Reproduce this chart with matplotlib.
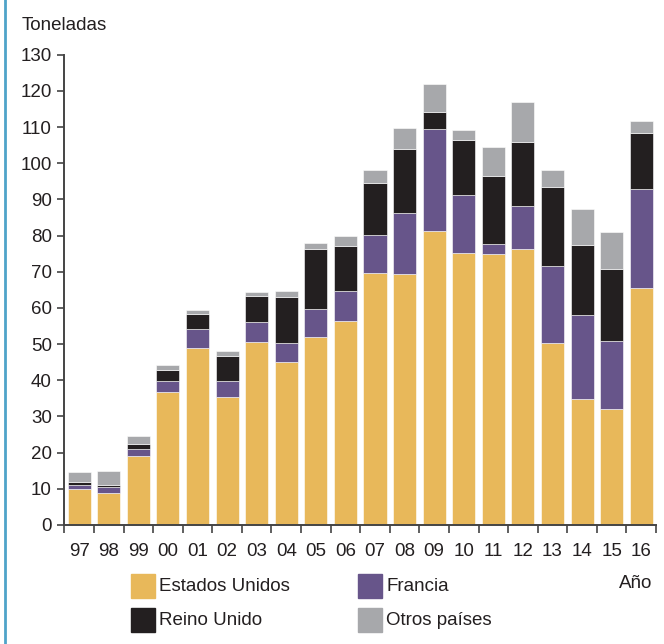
import numpy as np
import matplotlib
matplotlib.use("Agg")
import matplotlib.pyplot as plt
from matplotlib.lines import Line2D
from matplotlib.patches import Rectangle

plt.rcParams['font.family'] = ['Liberation Sans', 'DejaVu Sans']

years = ["97", "98", "99", "00", "01", "02", "03", "04", "05", "06",
         "07", "08", "09", "10", "11", "12", "13", "14", "15", "16"]
estados_unidos = [10.0, 8.9, 19.0, 36.8, 48.8, 35.3, 50.7, 45.1, 51.9, 56.4,
                  69.7, 69.3, 81.3, 75.3, 75.0, 76.3, 50.4, 34.9, 31.9, 65.6]
francia = [1.0, 1.6, 2.0, 3.0, 5.4, 4.5, 5.4, 5.3, 7.9, 8.3,
           10.5, 16.9, 28.1, 16.0, 2.7, 11.9, 21.2, 23.2, 19.0, 27.2]
reino_unido = [0.9, 0.6, 1.4, 2.9, 4.1, 7.0, 7.1, 12.5, 16.5, 12.5,
               14.3, 17.8, 4.8, 15.0, 18.7, 17.7, 21.8, 19.4, 19.8, 15.6]
otros = [2.7, 3.9, 2.3, 1.6, 1.1, 1.3, 1.2, 1.8, 1.6, 2.7,
         3.5, 5.7, 7.6, 3.0, 8.1, 11.0, 4.6, 9.9, 10.3, 3.4]

series = [("Estados Unidos", estados_unidos, "#E8B85A"),
          ("Francia", francia, "#67558A"),
          ("Reino Unido", reino_unido, "#231F20"),
          ("Otros países", otros, "#A7A8AB")]

fig = plt.figure(figsize=(6.64, 6.44), dpi=100)
ax = fig.add_axes([0.097, 0.185, 0.891, 0.73])

x = np.arange(len(years))
bottom = np.zeros(len(years))
for name, vals, col in series:
    ax.bar(x, vals, width=0.78, bottom=bottom, color=col,
           edgecolor="white", linewidth=0.4)
    bottom += np.array(vals)

ax.set_xlim(-0.5, len(years) - 0.5)
ax.set_ylim(0, 130)
ax.set_yticks(np.arange(0, 131, 10))
ax.set_xticks(x)
ax.set_xticklabels(years)
ax.set_xticks(np.arange(-0.5, len(years), 1), minor=True)
ax.tick_params(axis="x", which="major", length=0, pad=13, labelsize=13.5, labelcolor="#231F20")
ax.tick_params(axis="x", which="minor", length=6, width=1.2, color="#444444")
ax.tick_params(axis="y", length=5, width=1.2, color="#444444", labelsize=13.5,
               pad=4, labelcolor="#231F20")

for s in ["top", "right"]:
    ax.spines[s].set_visible(False)
for s in ["left", "bottom"]:
    ax.spines[s].set_linewidth(1.4)
    ax.spines[s].set_color("#444444")

fig.text(0.033, 0.96, "Toneladas", fontsize=13.5, va="center", ha="left", color="#231F20")

# legend
legend_pos = [(0.197, 0.090, 0), (0.539, 0.090, 1), (0.197, 0.037, 2), (0.539, 0.037, 3)]
for lx, ly, i in legend_pos:
    name, vals, col = series[i]
    fig.add_artist(Rectangle((lx, ly - 0.019), 0.036, 0.038, color=col,
                             transform=fig.transFigure))
    fig.text(lx + 0.043, ly, name, fontsize=13.5, va="center", ha="left", color="#231F20")

fig.text(0.932, 0.094, "Año", fontsize=13.5, va="center", ha="left", color="#231F20")

fig.add_artist(Line2D([0.008, 0.008], [0, 1], color="#4FA3C9", linewidth=2,
                      transform=fig.transFigure))

fig.savefig("out.png", dpi=100)
